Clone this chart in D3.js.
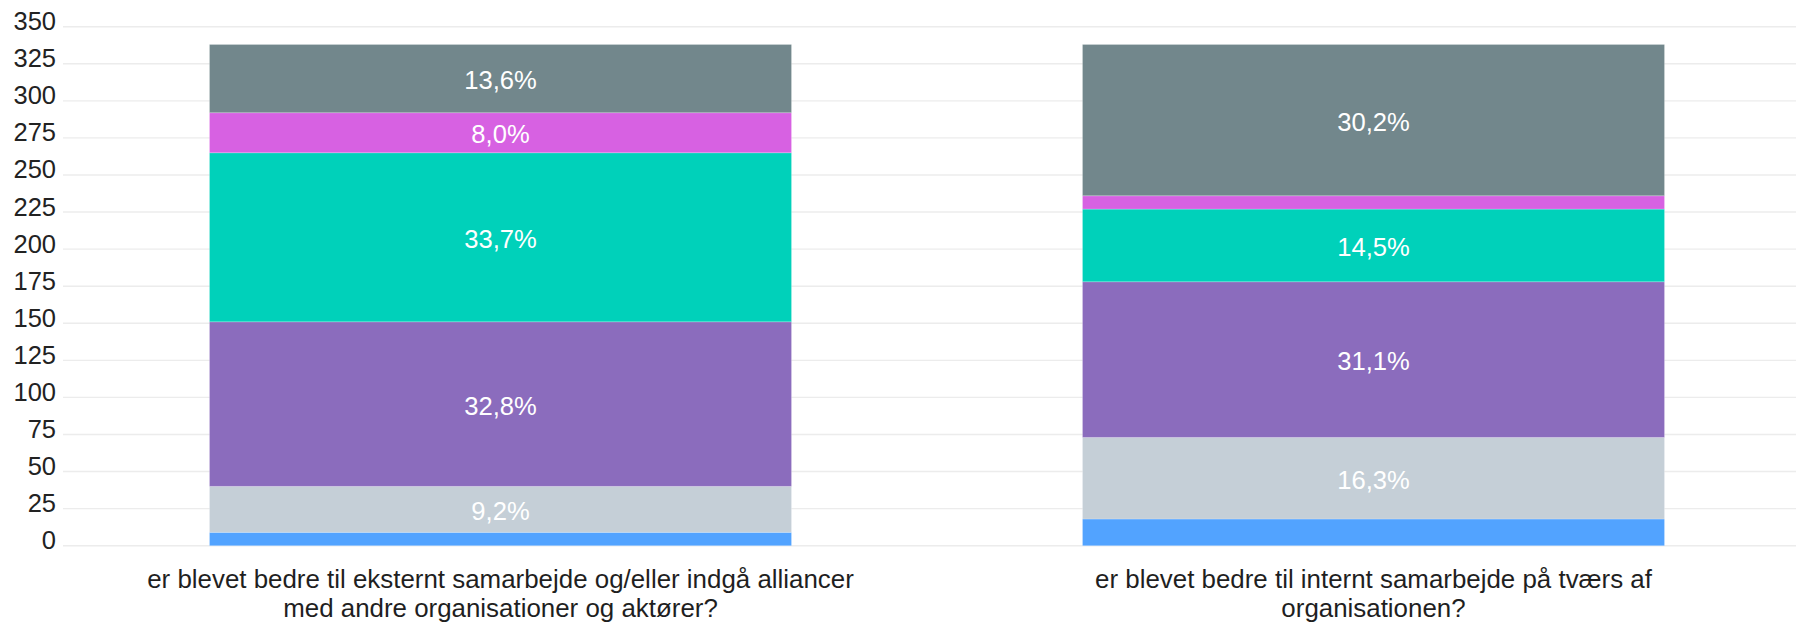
<!DOCTYPE html>
<html>
<head>
<meta charset="utf-8">
<script src="https://cdn.jsdelivr.net/npm/d3@7/dist/d3.min.js"></script>
<style>
  html, body { margin: 0; padding: 0; background: #ffffff; }
  svg { display: block; font-family: "Liberation Sans", Arial, sans-serif; }
</style>
</head>
<body>
<svg id="chart" width="1796" height="623"></svg>
<script>
// ---- data ----
const categories = [
  "er blevet bedre til eksternt samarbejde og/eller indgå alliancer med andre organisationer og aktører?",
  "er blevet bedre til internt samarbejde på tværs af organisationen?"
];
const categoryLines = [
  ["er blevet bedre til eksternt samarbejde og/eller indgå alliancer", "med andre organisationer og aktører?"],
  ["er blevet bedre til internt samarbejde på tværs af", "organisationen?"]
];
// series, stacked from bottom to top
const seriesNames = ["Serie 1", "Serie 2", "Serie 3", "Serie 4", "Serie 5", "Serie 6"];
const serie1 = [9, 18];
const serie2 = [31, 55];
const serie3 = [111, 105];
const serie4 = [114, 49];
const serie5 = [27, 9];
const serie6 = [46, 102];
const yTicks = [0, 25, 50, 75, 100, 125, 150, 175, 200, 225, 250, 275, 300, 325, 350];

// ---- styles ----
const colors = ["#52a3ff", "#c5cfd7", "#8b6cbd", "#00d1ba", "#d761e2", "#72878c"];

const seriesValues = [serie1, serie2, serie3, serie4, serie5, serie6];
const rows = categories.map((c, i) => {
  const r = { category: c };
  seriesNames.forEach((s, j) => { r[s] = seriesValues[j][i]; });
  r.total = seriesValues.reduce((a, v) => a + v[i], 0);
  return r;
});

const svg = d3.select("#chart");
const W = 1796;

const x = d3.scaleBand().domain(categories).range([64, 1810])
  .paddingInner(1 / 3).paddingOuter(1 / 6);
const y = d3.scaleLinear().domain([0, 350]).range([545.7, 26.7]);

// axis labels
const yAxis = d3.axisLeft(y).tickValues(yTicks).tickSize(0).tickPadding(0);
const gAxis = svg.append("g").attr("transform", "translate(56,0)").call(yAxis);
gAxis.select(".domain").remove();
gAxis.selectAll("text")
  .attr("x", 0)
  .attr("dy", null)
  .attr("dominant-baseline", "auto")
  .attr("transform", "translate(0,3)")
  .attr("fill", "#222222")
  .style("font-size", "25.5px")
  .style("font-family", "'Liberation Sans', Arial, sans-serif");

// grid
svg.append("g").selectAll("line").data(yTicks).join("line")
  .attr("x1", 63).attr("x2", W)
  .attr("y1", d => y(d)).attr("y2", d => y(d))
  .attr("stroke", "#ececec").attr("stroke-width", 1.4);

// bars
const stack = d3.stack().keys(seriesNames);
const stacked = stack(rows);

const pctFmt = d3.formatLocale({ decimal: ",", thousands: ".", grouping: [3], currency: ["", " kr."] }).format(".1f");

const layers = svg.append("g").selectAll("g.layer").data(stacked).join("g")
  .attr("class", "layer")
  .attr("fill", (d, i) => colors[i]);

layers.selectAll("rect").data(d => d).join("rect")
  .attr("x", d => x(d.data.category))
  .attr("width", x.bandwidth())
  .attr("y", d => y(d[1]))
  .attr("height", d => y(d[0]) - y(d[1]))
  .attr("stroke", "#ffffff").attr("stroke-opacity", 0.2).attr("stroke-width", 1);

// data labels
const labelData = [];
stacked.forEach(layer => {
  layer.forEach(d => {
    const v = d[1] - d[0];
    const pct = v / d.data.total * 100;
    if (pct >= 6) labelData.push({ cat: d.data.category, mid: (d[0] + d[1]) / 2, pct });
  });
});
svg.append("g").selectAll("text").data(labelData).join("text")
  .attr("x", d => x(d.cat) + x.bandwidth() / 2)
  .attr("y", d => y(d.mid))
  .attr("dy", "0.42em")
  .attr("text-anchor", "middle")
  .attr("fill", "#ffffff")
  .style("font-size", "25.6px")
  .text(d => pctFmt(d.pct) + "%");

// x labels
const xl = svg.append("g").selectAll("text").data(categories).join("text")
  .attr("x", d => x(d) + x.bandwidth() / 2)
  .attr("y", 588)
  .attr("text-anchor", "middle")
  .attr("fill", "#1f1f1f")
  .style("font-size", "25.9px");
xl.selectAll("tspan").data((d, i) => categoryLines[i]).join("tspan")
  .attr("x", function () { return d3.select(this.parentNode).attr("x"); })
  .attr("dy", (d, i) => i === 0 ? 0 : 29)
  .text(d => d);
</script>
</body>
</html>
